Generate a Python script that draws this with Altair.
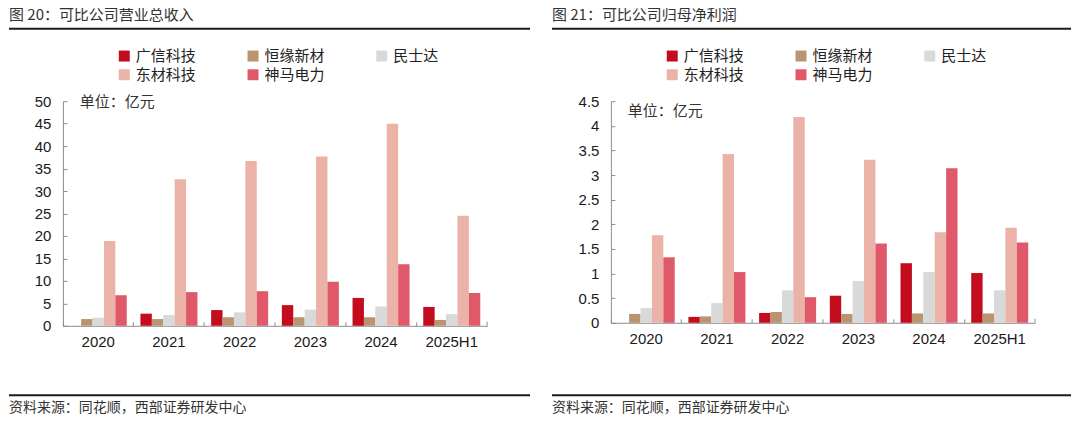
import altair as alt
import pandas as pd

years = ["2020", "2021", "2022", "2023", "2024", "2025H1"]
companies = ["广信科技", "恒缘新材", "民士达", "东材科技", "神马电力"]
colors = ["#C30D1F", "#BA9470", "#D9D9D9", "#EBB2A7", "#E0596B"]

# 营业总收入（亿元）
rev_guangxin = [None, 2.7, 3.5, 4.6, 6.2, 4.2]
rev_hengyuan = [1.5, 1.5, 1.9, 1.9, 1.9, 1.3]
rev_minshida = [1.8, 2.4, 3.0, 3.6, 4.3, 2.6]
rev_dongcai = [18.9, 32.6, 36.7, 37.7, 45.0, 24.5]
rev_shenma = [6.8, 7.5, 7.7, 9.8, 13.7, 7.3]

# 归母净利润（亿元）
np_guangxin = [None, 0.12, 0.20, 0.55, 1.21, 1.01]
np_hengyuan = [0.18, 0.13, 0.22, 0.18, 0.19, 0.19]
np_minshida = [0.30, 0.40, 0.66, 0.85, 1.03, 0.66]
np_dongcai = [1.78, 3.43, 4.18, 3.31, 1.84, 1.93]
np_shenma = [1.33, 1.03, 0.52, 1.61, 3.14, 1.63]

rev_ticks = [0, 5, 10, 15, 20, 25, 30, 35, 40, 45, 50]
np_ticks = [0, 0.5, 1, 1.5, 2, 2.5, 3, 3.5, 4, 4.5]

title_left = "图 20：可比公司营业总收入"
title_right = "图 21：可比公司归母净利润"
unit_text = "单位：亿元"
source_text = "资料来源：同花顺，西部证券研发中心"

CJK = "Noto Sans CJK SC"
NUM = "Liberation Sans"
AXIS_GRAY = "#8C8C8C"


def long_df(series):
    rows = []
    for comp, vals in zip(companies, series):
        for yr, v in zip(years, vals):
            rows.append({"year": yr, "company": comp, "value": v})
    return pd.DataFrame(rows)


def panel(series, ticks, ymax, fmt, W, H, title, unit_y, left_x, right_x):
    df = long_df(series)
    xsc = alt.Scale(paddingInner=0, paddingOuter=0)
    ysc = alt.Scale(domain=[0, ymax], nice=False, zero=True)
    base = alt.Chart(df)
    bars = base.mark_bar().encode(
        x=alt.X("year:N", sort=years, scale=xsc,
                axis=alt.Axis(title=None, labelAngle=0, labelFont=NUM, labelFontSize=15,
                              labelColor="#1A1A1A", ticks=False, domainColor=AXIS_GRAY,
                              domainWidth=1, labelPadding=9)),
        xOffset=alt.XOffset("company:N", sort=companies,
                            scale=alt.Scale(paddingInner=0, paddingOuter=0.6)),
        y=alt.Y("value:Q", scale=ysc,
                axis=alt.Axis(title=None, values=ticks, format=fmt, grid=False, ticks=False,
                              domainColor=AXIS_GRAY, labelFont=NUM, labelFontSize=15,
                              labelColor="#1A1A1A", labelPadding=12)),
        color=alt.Color("company:N", sort=companies,
                        scale=alt.Scale(domain=companies, range=colors),
                        legend=alt.Legend(orient="none", legendX=54, legendY=-53,
                                          direction="horizontal", columns=3, title=None,
                                          symbolType="square", symbolSize=121,
                                          symbolStrokeWidth=0, labelFont=CJK,
                                          labelFontSize=15, labelColor="#222222",
                                          columnPadding=49, rowPadding=3, labelOffset=4,
                                          padding=0)),
    )
    # inward tick marks on the x axis (at group boundaries)
    xticks = base.mark_point(opacity=0).encode(
        x=alt.X("year:N", sort=years, scale=xsc,
                axis=alt.Axis(orient="top", offset=-H, labels=False, domain=False,
                              ticks=True, tickSize=4, tickColor=AXIS_GRAY,
                              bandPosition=0, title=None)),
        y=alt.Y("value:Q", scale=ysc, axis=None),
    )
    # inward tick marks on the y axis
    yticks = base.mark_point(opacity=0).encode(
        x=alt.X("year:N", sort=years, scale=xsc, axis=None),
        y=alt.Y("value:Q", scale=ysc,
                axis=alt.Axis(orient="right", offset=-W, labels=False, domain=False,
                              ticks=True, tickSize=4, tickColor=AXIS_GRAY,
                              values=ticks, grid=False, title=None)),
    )
    end_tick = alt.Chart(pd.DataFrame({"k": [0]})).mark_rule(color=AXIS_GRAY).encode(
        x=alt.value(W), y=alt.value(H - 4), y2=alt.value(H))

    unit = alt.Chart(pd.DataFrame({"t": [unit_text]})).mark_text(
        font=CJK, fontSize=15, color="#333333", align="left", baseline="middle").encode(
        text="t:N", x=alt.value(17), y=alt.value(unit_y))
    ttl = alt.Chart(pd.DataFrame({"t": [title]})).mark_text(
        font=CJK, fontSize=15, color="#333333", align="left", baseline="middle").encode(
        text="t:N", x=alt.value(left_x), y=alt.value(-86))
    ttl_rule = alt.Chart(pd.DataFrame({"k": [0]})).mark_rule(
        color="#1A1A1A", strokeWidth=2).encode(
        x=alt.value(left_x), x2=alt.value(right_x), y=alt.value(-72.5))
    src = alt.Chart(pd.DataFrame({"t": [source_text]})).mark_text(
        font=CJK, fontSize=14, color="#333333", align="left", baseline="middle").encode(
        text="t:N", x=alt.value(left_x), y=alt.value(307))
    src_rule = alt.Chart(pd.DataFrame({"k": [0]})).mark_rule(
        color="#1A1A1A", strokeWidth=2).encode(
        x=alt.value(left_x), x2=alt.value(right_x), y=alt.value(294.5))

    return alt.layer(bars, xticks, yticks, end_tick, unit, ttl, ttl_rule, src, src_rule) \
        .resolve_axis(x="independent", y="independent") \
        .properties(width=W, height=H)


left = panel([rev_guangxin, rev_hengyuan, rev_minshida, rev_dongcai, rev_shenma],
             rev_ticks, 50, "d", 425, 225, title_left, 1, -54, 468)
right = panel([np_guangxin, np_hengyuan, np_minshida, np_dongcai, np_shenma],
              np_ticks, 4.5, "~g", 425, 222, title_right, 10, -59, 461)

chart = alt.hconcat(left, right, spacing=124, bounds="flush") \
    .resolve_scale(color="independent") \
    .properties(padding=0, background="white") \
    .configure_view(stroke=None)

chart.save("out.html", embed_options={"renderer": "svg", "actions": False})
